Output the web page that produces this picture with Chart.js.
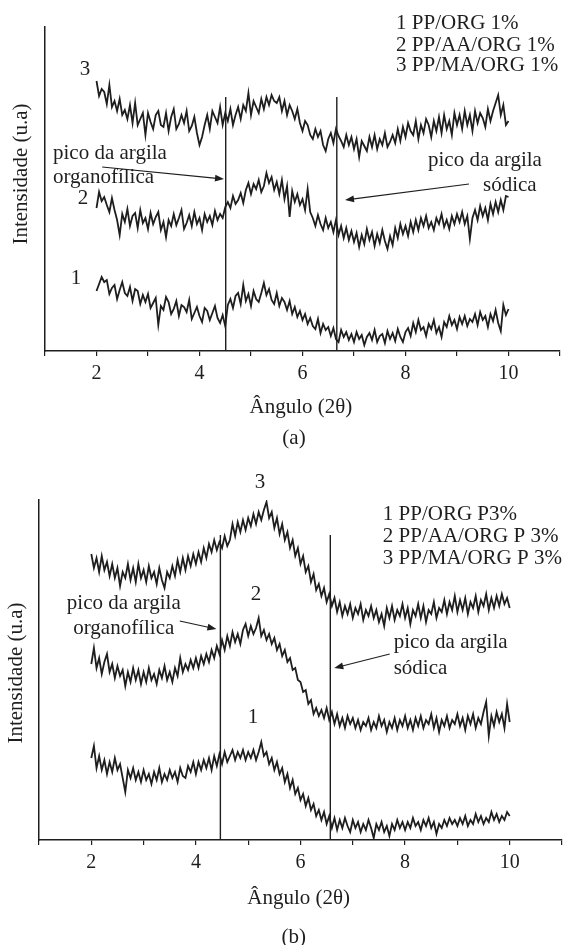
<!DOCTYPE html>
<html>
<head>
<meta charset="utf-8">
<script src="https://cdn.jsdelivr.net/npm/chart.js@4.4.1/dist/chart.umd.min.js"></script>
<style>
  html, body { margin: 0; padding: 0; background: #fff; }
  #wrap { position: relative; width: 568px; height: 945px; overflow: hidden; }
  canvas { position: absolute; left: 0; }
  #chartA { top: 0; }
  #chartB { top: 460px; }
</style>
</head>
<body>
<div id="wrap">
  <canvas id="chartA" width="568" height="460"></canvas>
  <canvas id="chartB" width="568" height="485"></canvas>
</div>
<script>
// scan step 0.05 deg, 2 -> 10 (2 theta)
const angles = Array.from({ length: 161 }, (_, i) => +(2 + i * 0.05).toFixed(2));

// --- (a) 1% samples, intensity in arbitrary units ---
const ppOrg1 = [
  60,67,74,69,71,57,63,66,52,61,69,58,55,64,50,62,60,47,56,49,
  57,43,48,53,26,45,41,54,49,37,42,50,35,46,44,39,51,32,38,44,
  35,29,43,40,31,38,45,33,28,36,25,46,52,43,55,58,47,66,50,57,
  45,60,52,49,58,68,56,62,51,47,58,45,53,49,41,50,37,44,34,40,
  31,37,27,33,25,22,32,18,27,21,24,15,23,12,9,21,14,19,11,17,
  9,19,12,16,6,14,18,11,21,9,15,17,8,20,12,18,10,22,14,9,
  19,23,15,28,19,31,21,24,15,27,22,31,18,24,14,29,24,35,26,31,
  22,34,27,35,25,32,29,37,26,39,31,35,24,37,30,41,28,20,46,36,
  42
];
const ppAaOrg1 = [
  143,159,150,154,146,139,153,141,131,116,137,129,142,125,135,138,123,141,128,133,
  122,138,127,134,139,121,129,114,131,125,137,126,133,141,122,128,136,125,139,127,
  133,121,137,129,135,126,140,131,137,133,144,149,143,155,147,151,158,148,161,168,
  157,167,162,171,159,165,178,168,174,161,169,157,171,152,165,134,160,149,157,146,
  152,141,162,139,133,125,136,127,121,133,123,129,119,131,116,125,113,123,111,120,
  109,118,104,116,107,122,111,119,105,117,108,121,110,102,115,106,123,113,127,117,
  125,115,129,119,131,121,133,125,135,123,129,121,133,127,137,124,131,122,135,127,
  137,129,139,127,135,112,133,141,131,145,135,143,131,147,137,149,139,151,141,155,
  154
];
const ppMaOrg1 = [
  270,255,262,259,247,266,244,250,240,252,236,241,232,246,228,248,226,232,238,216,
  238,229,222,236,240,226,224,238,220,234,242,222,227,236,228,240,220,225,234,218,
  206,214,226,236,222,240,234,228,244,226,238,230,242,226,236,244,232,246,240,258,
  236,250,244,238,252,242,254,246,256,250,248,254,240,250,236,246,240,232,242,228,
  220,230,226,216,212,222,214,220,206,200,212,218,208,222,215,210,204,216,206,214,
  202,212,194,210,205,200,214,204,216,202,212,206,218,204,209,216,208,222,210,224,
  214,228,220,216,230,212,226,218,232,226,214,230,220,234,218,236,222,230,216,238,
  226,236,222,240,226,236,220,240,228,238,233,224,242,230,240,248,256,236,246,226,
  230
];

// --- (b) 3% samples ---
const ppOrg3 = [
  82,94,72,84,70,80,66,78,68,82,70,76,62,48,70,62,72,60,68,58,
  70,60,66,56,68,60,72,58,66,60,70,62,68,58,72,64,62,74,68,78,
  66,78,70,80,72,82,70,84,74,86,76,88,78,84,90,80,88,82,90,80,
  88,82,90,80,88,98,84,88,76,82,70,78,66,72,58,66,52,60,46,52,
  40,46,34,42,30,36,24,30,20,28,16,24,12,22,10,20,12,22,14,8,
  20,12,18,8,16,10,20,12,2,16,10,18,8,14,4,16,10,20,12,18,
  10,18,12,22,14,18,10,20,14,22,12,18,6,16,12,20,14,22,16,20,
  14,22,16,24,14,20,16,26,18,24,16,22,18,28,20,26,18,24,20,28,
  24
];
const ppAaOrg3 = [
  176,192,172,182,166,178,186,168,176,162,174,164,170,154,168,158,172,160,170,156,
  168,158,172,160,166,156,170,162,174,160,168,158,172,164,182,168,176,170,180,172,
  182,172,184,176,186,178,190,182,194,186,200,190,204,194,208,198,206,196,210,216,
  204,214,206,212,222,204,210,200,206,196,202,190,196,184,190,178,182,170,172,160,
  158,148,150,136,140,126,132,124,130,122,132,120,128,116,126,114,122,112,124,116,
  122,112,120,110,118,114,122,110,118,112,124,114,120,108,118,112,122,110,120,114,
  124,112,120,110,122,114,124,112,120,116,126,112,122,108,120,114,124,112,120,116,
  126,114,122,110,124,116,126,112,122,116,128,138,104,124,114,128,118,126,112,136,
  118
];
const ppMaOrg3 = [
  286,272,282,268,284,270,278,264,276,262,272,254,268,262,276,260,272,258,276,262,
  270,258,274,262,268,256,272,260,252,268,262,274,264,280,268,282,270,284,274,286,
  276,288,278,292,282,296,288,300,290,298,292,304,294,300,316,304,318,308,320,310,
  322,314,326,316,328,320,330,338,322,328,312,322,306,316,300,308,292,300,284,292,
  276,284,268,274,258,266,250,256,244,252,238,246,234,242,228,238,224,234,226,236,
  222,232,226,236,220,230,224,234,222,230,218,226,214,232,222,234,220,230,224,236,
  222,232,216,230,224,236,222,234,218,230,226,238,222,232,228,240,226,238,230,244,
  228,240,230,242,226,238,232,244,228,240,234,246,230,242,232,244,234,246,236,242,
  232
];

// clay reference peaks (organophilic, sodic) and how high the marker lines go
const peaksA = [4.509, 6.666];
const peaksB = [4.468, 6.570];
const peakTopA = 254;
const peakTopB = 305;

const INK = '#1e1e1e';
const SERIF = "'Liberation Serif', 'Times New Roman', serif";

function drawArrow(ctx, x1, y1, x2, y2) {
  const ang = Math.atan2(y2 - y1, x2 - x1);
  const len = 9, half = 3.5;
  ctx.lineWidth = 1.2;
  ctx.beginPath();
  ctx.moveTo(x1, y1);
  ctx.lineTo(x2 - Math.cos(ang) * len * 0.8, y2 - Math.sin(ang) * len * 0.8);
  ctx.stroke();
  ctx.beginPath();
  ctx.moveTo(x2, y2);
  ctx.lineTo(x2 - Math.cos(ang) * len - Math.sin(ang) * half, y2 - Math.sin(ang) * len + Math.cos(ang) * half);
  ctx.lineTo(x2 - Math.cos(ang) * len + Math.sin(ang) * half, y2 - Math.sin(ang) * len - Math.cos(ang) * half);
  ctx.closePath();
  ctx.fill();
}

// texts and arrows, placed in (angle, intensity) units
function notesPlugin(notes) {
  return {
    id: 'xrdNotes',
    afterDraw(chart) {
      const { ctx, scales: { x, y } } = chart;
      const px = v => x.getPixelForValue(v);
      const py = v => y.getPixelForValue(v);
      ctx.save();
      ctx.fillStyle = INK;
      ctx.strokeStyle = INK;
      ctx.font = '21px ' + SERIF;
      ctx.textBaseline = 'middle';
      notes.texts.forEach(t => {
        ctx.textAlign = t.align || 'left';
        ctx.fillText(t.t, px(t.x), py(t.y));
      });
      ctx.save();
      ctx.translate(px(notes.yTitle.x), py(notes.yTitle.y));
      ctx.rotate(-Math.PI / 2);
      ctx.textAlign = 'center';
      ctx.fillText(notes.yTitle.t, 0, 0);
      ctx.restore();
      notes.arrows.forEach(a => drawArrow(ctx, px(a[0]), py(a[1]), px(a[2]), py(a[3])));
      ctx.restore();
    }
  };
}

function makeChart(id, series, peaks, peakTop, yMax, pad, notes) {
  const datasets = series.map(s => ({
    data: angles.map((a, i) => ({ x: a, y: s[i] })),
    borderColor: INK,
    borderWidth: 1.8,
    pointRadius: 0,
    tension: 0
  }));
  peaks.forEach(p => datasets.push({
    data: [{ x: p, y: 0 }, { x: p, y: peakTop }],
    borderColor: INK,
    borderWidth: 1.4,
    pointRadius: 0
  }));

  return new Chart(document.getElementById(id), {
    type: 'line',
    data: { datasets },
    options: {
      responsive: false,
      animation: false,
      events: [],
      layout: { padding: pad },
      plugins: { legend: { display: false }, tooltip: { enabled: false } },
      scales: {
        x: {
          type: 'linear',
          min: 1,
          max: 11,
          afterFit: s => { s.height = 30; },
          ticks: {
            stepSize: 1,
            autoSkip: false,
            maxRotation: 0,
            padding: 6,
            color: INK,
            font: { family: SERIF, size: 20 },
            callback: v => (v % 2 === 0 ? String(v) : '')
          },
          grid: { display: true, drawOnChartArea: false, drawTicks: true, tickLength: 5, color: INK, lineWidth: 1.2 },
          border: { display: true, color: INK, width: 1.5 }
        },
        y: {
          min: 0,
          max: yMax,
          afterFit: s => { s.width = 0; },
          ticks: { display: false },
          grid: { display: false },
          border: { display: true, color: INK, width: 1.5 }
        }
      }
    },
    plugins: [notesPlugin(notes)]
  });
}

makeChart('chartA', [ppOrg1, ppAaOrg1, ppMaOrg1], peaksA, peakTopA, 324,
  { left: 45, right: 8, top: 27, bottom: 79 },
  {
    texts: [
      { t: '1 PP/ORG 1%', x: 7.816, y: 328 },
      { t: '2 PP/AA/ORG 1%', x: 7.816, y: 306 },
      { t: '3 PP/MA/ORG 1%', x: 7.816, y: 286 },
      { t: '3', x: 1.777, y: 282, align: 'center' },
      { t: '2', x: 1.738, y: 153, align: 'center' },
      { t: '1', x: 1.602, y: 73, align: 'center' },
      { t: 'pico da argila', x: 1.155, y: 198 },
      { t: 'organofílica', x: 1.155, y: 174 },
      { t: 'pico da argila', x: 8.437, y: 191 },
      { t: 'sódica', x: 9.505, y: 166 },
      { t: 'Ângulo (2θ)', x: 5.97, y: -56, align: 'center' },
      { t: '(a)', x: 5.835, y: -87, align: 'center' }
    ],
    yTitle: { t: 'Intensidade (u.a)', x: 0.553, y: 177 },
    arrows: [[2.11, 184, 4.476, 172], [9.233, 167, 6.825, 151]]
  });

makeChart('chartB', [ppOrg3, ppAaOrg3, ppMaOrg3], peaksB, peakTopB, 340,
  { left: 39, right: 1, top: 40, bottom: 75 },
  {
    texts: [
      { t: '1 PP/ORG P3%', x: 7.574, y: 326 },
      { t: '2 PP/AA/ORG P 3%', x: 7.574, y: 304 },
      { t: '3 PP/MA/ORG P 3%', x: 7.574, y: 282 },
      { t: '3', x: 5.225, y: 358, align: 'center' },
      { t: '2', x: 5.150, y: 246, align: 'center' },
      { t: '1', x: 5.093, y: 123, align: 'center' },
      { t: 'pico da argila', x: 2.621, y: 237, align: 'center' },
      { t: 'organofílica', x: 2.621, y: 212, align: 'center' },
      { t: 'pico da argila', x: 7.782, y: 198 },
      { t: 'sódica', x: 7.782, y: 172 },
      { t: 'Ângulo (2θ)', x: 5.964, y: -58, align: 'center' },
      { t: '(b)', x: 5.869, y: -97, align: 'center' }
    ],
    yTitle: { t: 'Intensidade (u.a)', x: 0.566, y: 167 },
    arrows: [[3.691, 219, 4.392, 211], [7.706, 186, 6.646, 172]]
  });
</script>
</body>
</html>
